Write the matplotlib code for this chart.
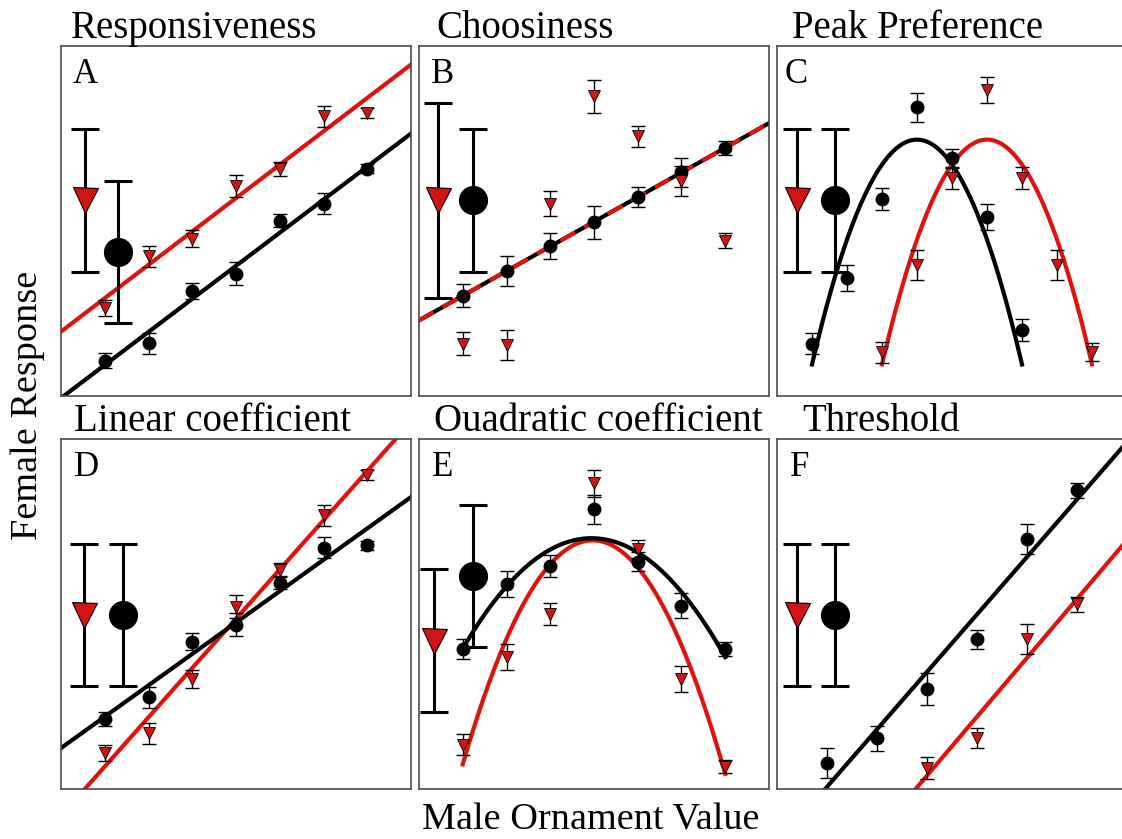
import numpy as np
import matplotlib
matplotlib.use("Agg")
import matplotlib.pyplot as plt

plt.rcParams['font.family'] = ['Liberation Serif', 'DejaVu Serif']

W, H = 1122, 839
RED = '#e0120f'
RED_FILL = '#d21414'

titles = ["Responsiveness", "Choosiness", "Peak Preference",
          "Linear coefficient", "Ouadratic coefficient", "Threshold"]
letters = ["A", "B", "C", "D", "E", "F"]

# Male ornament values presented in each trial set
x7 = [1, 2, 3, 4, 5, 6, 7]
x_C_red = [3, 4, 5, 6, 7, 8, 9]
x_F_black = [1, 2, 3, 4, 5, 6]
x_F_red = [3, 4, 5, 6]

# Mean female response (circles = black group, triangles = red group) and SE
A_black_y = [0.81, 1.21, 2.40, 2.80, 4.01, 4.40, 5.20]
A_black_err = [0.18, 0.24, 0.19, 0.26, 0.15, 0.23, 0.10]
A_red_y = [2.01, 3.20, 3.60, 4.80, 5.20, 6.39, 6.47]
A_red_err = [0.18, 0.24, 0.19, 0.25, 0.16, 0.25, 0.12]

B_black_y = [2.29, 2.86, 3.43, 3.97, 4.54, 5.11, 5.68]
B_black_err = [0.26, 0.34, 0.29, 0.38, 0.23, 0.34, 0.16]
B_red_y = [1.20, 1.17, 4.40, 6.85, 5.94, 4.91, 3.55]
B_red_err = [0.27, 0.34, 0.29, 0.37, 0.24, 0.34, 0.17]

C_black_y = [1.20, 2.70, 4.50, 6.60, 5.43, 4.10, 1.50]
C_black_err = [0.23, 0.29, 0.25, 0.33, 0.21, 0.30, 0.25]
C_red_y = [1.00, 3.00, 4.99, 6.99, 4.99, 3.00, 1.01]
C_red_err = [0.24, 0.34, 0.25, 0.30, 0.25, 0.34, 0.20]

D_black_y = [1.60, 2.10, 3.37, 3.76, 4.72, 5.51, 5.57]
D_black_err = [0.16, 0.24, 0.19, 0.26, 0.15, 0.24, 0.10]
D_red_y = [0.82, 1.28, 2.52, 4.17, 5.01, 6.26, 7.18]
D_red_err = [0.18, 0.24, 0.20, 0.27, 0.16, 0.24, 0.11]

E_black_y = [3.20, 4.69, 5.10, 6.39, 5.20, 4.19, 3.20]
E_black_err = [0.22, 0.30, 0.25, 0.33, 0.21, 0.29, 0.17]
E_red_y = [1.01, 3.01, 4.00, 6.99, 5.48, 2.51, 0.51]
E_red_err = [0.24, 0.30, 0.25, 0.31, 0.21, 0.30, 0.15]

F_black_y = [0.59, 1.16, 2.29, 3.42, 5.71, 6.83]
F_black_err = [0.34, 0.28, 0.37, 0.22, 0.34, 0.17]
F_red_y = [0.49, 1.16, 3.43, 4.22]
F_red_err = [0.25, 0.23, 0.34, 0.17]

# Overall group means with SD (large symbols), panels A-F
mean_red = [4.47, 4.47, 4.47, 3.98, 3.39, 3.98]
sd_red = [1.63, 2.22, 1.63, 1.63, 1.63, 1.63]
mean_black = [3.29, 4.47, 4.47, 3.98, 4.87, 3.98]
sd_black = [1.63, 1.63, 1.63, 1.63, 1.62, 1.63]

# Peak-preference functions in C: common shape, shifted peak
C_peak_x = [4.0, 6.0]        # black, red
C_peak_height = 5.86
C_curvature = -0.571

panels = [
    dict(xb=x7, yb=A_black_y, eb=A_black_err, xr=x7, yr=A_red_y, er=A_red_err, fit='lin'),
    dict(xb=x7, yb=B_black_y, eb=B_black_err, xr=x7, yr=B_red_y, er=B_red_err, fit='shared'),
    dict(xb=x7, yb=C_black_y, eb=C_black_err, xr=x_C_red, yr=C_red_y, er=C_red_err, fit='peak'),
    dict(xb=x7, yb=D_black_y, eb=D_black_err, xr=x7, yr=D_red_y, er=D_red_err, fit='lin'),
    dict(xb=x7, yb=E_black_y, eb=E_black_err, xr=x7, yr=E_red_y, er=E_red_err, fit='quad'),
    dict(xb=x_F_black, yb=F_black_y, eb=F_black_err, xr=x_F_red, yr=F_red_y, er=F_red_err, fit='lin'),
]

# layout (pixels)
col_left = [61, 419, 777]
row_top = [46, 439]
box = 350
xmax = [8, 8, 10, 8, 8, 7]
big_red_x = [0.55, 0.44, 0.56, 0.53, 0.34, 0.39]
big_black_x = [1.31, 1.24, 1.66, 1.42, 1.23, 1.16]
title_dx = [10, 17, 15, 13, 15, 25]
letter_dx = [12, 12, 8, 13, 13, 13]

fig = plt.figure(figsize=(W / 100, H / 100), dpi=100)

for i, p in enumerate(panels):
    r, c = divmod(i, 3)
    l, t = col_left[c], row_top[r]
    ax = fig.add_axes([l / W, 1 - (t + box) / H, box / W, box / H])
    ax.set_xlim(0, xmax[i])
    ax.set_ylim(0, 8)
    ax.set_xticks([])
    ax.set_yticks([])
    for s in ax.spines.values():
        s.set_color('#4a4a4a')
        s.set_linewidth(1.2)

    xb, yb = np.array(p['xb'], float), np.array(p['yb'], float)
    xr, yr = np.array(p['xr'], float), np.array(p['yr'], float)
    xs = np.linspace(0, xmax[i], 200)

    if p['fit'] == 'lin':
        ax.plot(xs, np.polyval(np.polyfit(xr, yr, 1), xs), color=RED, lw=3, zorder=2)
        ax.plot(xs, np.polyval(np.polyfit(xb, yb, 1), xs), color='black', lw=3, zorder=2)
    elif p['fit'] == 'shared':
        line = np.polyval(np.polyfit(xb, yb, 1), xs)
        ax.plot(xs, line, color='black', lw=3, zorder=2)
        ax.plot(xs, line, color=RED, lw=3, zorder=2.1, dashes=(4, 2.5))
    elif p['fit'] == 'quad':
        xq = np.linspace(xr.min(), xr.max(), 200)
        ax.plot(xq, np.polyval(np.polyfit(xr, yr, 2), xq), color=RED, lw=3, zorder=2)
        xq = np.linspace(xb.min(), xb.max(), 200)
        ax.plot(xq, np.polyval(np.polyfit(xb, yb, 2), xq), color='black', lw=3, zorder=2)
    elif p['fit'] == 'peak':
        for px, col in zip(C_peak_x, ['black', RED]):
            xq = np.linspace(px - 3, px + 3, 200)
            ax.plot(xq, C_peak_height + C_curvature * (xq - px) ** 2,
                    color=col, lw=3, zorder=2)

    # group means for each ornament value
    ax.errorbar(xb, yb, yerr=p['eb'], fmt='none', ecolor='black',
                elinewidth=1.0, capsize=5, capthick=1.0, zorder=3)
    ax.errorbar(xr, yr, yerr=p['er'], fmt='none', ecolor='black',
                elinewidth=1.0, capsize=5, capthick=1.0, zorder=3)
    ax.plot(xb, yb, 'o', color='black', ms=9, zorder=4)
    ax.plot(xr, yr, 'v', color=RED_FILL, mec='black', mew=0.6, ms=8.5, zorder=4)

    # overall means with SD
    ax.errorbar([big_red_x[i]], [mean_red[i]], yerr=[sd_red[i]], fmt='none',
                ecolor='black', elinewidth=2.2, capsize=10, capthick=2.2, zorder=3)
    ax.errorbar([big_black_x[i]], [mean_black[i]], yerr=[sd_black[i]], fmt='none',
                ecolor='black', elinewidth=2.2, capsize=10, capthick=2.2, zorder=3)
    ax.plot([big_red_x[i]], [mean_red[i]], 'v', color=RED_FILL, mec='black',
            mew=0.8, ms=18, zorder=5)
    ax.plot([big_black_x[i]], [mean_black[i]], 'o', color='black', ms=20, zorder=5)

    fig.text((l + title_dx[i]) / W, 1 - (t - 8) / H, titles[i], fontsize=28,
             ha='left', va='baseline')
    fig.text((l + letter_dx[i]) / W, 1 - (t + 37) / H, letters[i], fontsize=25,
             ha='left', va='baseline')

fig.text(28 / W, 1 - 405 / H, "Female Response", fontsize=27.5, rotation=90,
         ha='center', va='center')
fig.text(591 / W, 1 - 830 / H, "Male Ornament Value", fontsize=27.5,
         ha='center', va='baseline')

fig.savefig('out.png', dpi=100)
